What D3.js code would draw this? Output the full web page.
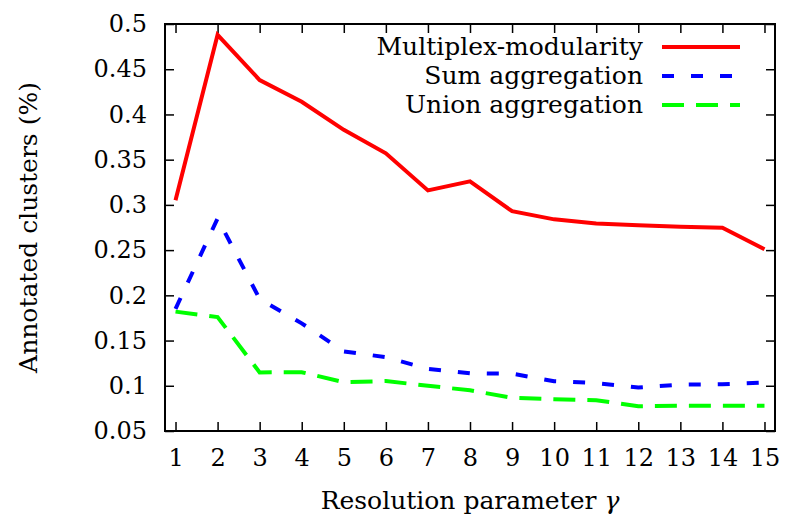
<!DOCTYPE html>
<html>
<head>
<meta charset="utf-8">
<script src="https://cdn.jsdelivr.net/npm/d3@7"></script>
<style>
  body { margin: 0; background: #fff; }
</style>
</head>
<body>
<div id="chart"></div>
<script>
// resolution parameter gamma
const gammas = [1, 2, 3, 4, 5, 6, 7, 8, 9, 10, 11, 12, 13, 14, 15];
const multiplex = [0.305, 0.488, 0.438, 0.414, 0.383, 0.357, 0.316, 0.326, 0.293, 0.284, 0.2795, 0.2775, 0.2758, 0.2747, 0.251];
const sumAgg = [0.185, 0.285, 0.196, 0.169, 0.138, 0.1316, 0.1187, 0.1139, 0.1134, 0.105, 0.103, 0.0981, 0.1013, 0.1017, 0.1035];
const unionAgg = [0.182, 0.176, 0.1148, 0.115, 0.104, 0.1052, 0.1, 0.095, 0.0866, 0.0852, 0.0841, 0.0774, 0.078, 0.078, 0.078];
const seriesNames = ['Multiplex-modularity', 'Sum aggregation', 'Union aggregation'];
const yTicks = [0.05, 0.1, 0.15, 0.2, 0.25, 0.3, 0.35, 0.4, 0.45, 0.5];

const W = 785, H = 518;
const M = { left: 165, right: 775, top: 24, bottom: 431 };
const FONT = 24;       // tick labels
const FONT_TXT = 25;   // legend and axis titles
const FAMILY = "'DejaVu Serif', serif";

const svg = d3.select('#chart').append('svg')
  .attr('width', W).attr('height', H)
  .style('font-family', FAMILY);

const x = d3.scaleLinear().domain([0.75, 15.25]).range([M.left, M.right]);
const y = d3.scaleLinear().domain([0.05, 0.5]).range([M.bottom, M.top]);

// axes, ticks drawn inward (gnuplot style), mirrored on top/right
function styleAxis(g) {
  g.attr('font-family', null).attr('font-size', null);
  g.selectAll('.domain').remove();
  g.selectAll('.tick line').attr('stroke', '#000').attr('stroke-width', 1.5);
  g.selectAll('text')
    .style('font-family', FAMILY)
    .style('font-size', FONT + 'px')
    .attr('fill', '#000');
}

svg.append('g')
  .attr('transform', 'translate(0,' + M.bottom + ')')
  .call(d3.axisBottom(x).tickValues(gammas).tickSizeInner(-9).tickSizeOuter(0).tickPadding(18))
  .call(styleAxis);

svg.append('g')
  .attr('transform', 'translate(0,' + M.top + ')')
  .call(d3.axisTop(x).tickValues(gammas).tickSizeInner(-9).tickSizeOuter(0).tickFormat(''))
  .call(styleAxis);

svg.append('g')
  .attr('transform', 'translate(' + M.left + ',0)')
  .call(d3.axisLeft(y).tickValues(yTicks).tickSizeInner(-9).tickSizeOuter(0).tickPadding(18).tickFormat(d => String(d)))
  .call(styleAxis);

svg.append('g')
  .attr('transform', 'translate(' + M.right + ',0)')
  .call(d3.axisRight(y).tickValues(yTicks).tickSizeInner(-9).tickSizeOuter(0).tickFormat(''))
  .call(styleAxis);

// frame
svg.append('rect')
  .attr('x', M.left).attr('y', M.top)
  .attr('width', M.right - M.left).attr('height', M.bottom - M.top)
  .attr('fill', 'none').attr('stroke', '#000').attr('stroke-width', 2);

// lines
const series = [
  { name: seriesNames[0], values: multiplex, color: '#ff0000', dash: null },
  { name: seriesNames[1], values: sumAgg, color: '#0000ff', dash: '12,17' },
  { name: seriesNames[2], values: unionAgg, color: '#00ff00', dash: '22,12' }
];

const line = d3.line()
  .x((d, i) => x(gammas[i]))
  .y(d => y(d));

const plot = svg.append('g');
plot.selectAll('path')
  .data(series)
  .enter()
  .append('path')
  .attr('d', d => line(d.values))
  .attr('fill', 'none')
  .attr('stroke', d => d.color)
  .attr('stroke-width', 4)
  .attr('stroke-dasharray', d => d.dash);

// legend (top right, text right-aligned)
const legend = svg.append('g').attr('transform', 'translate(643,47)');
const item = legend.selectAll('g')
  .data(series)
  .enter()
  .append('g')
  .attr('transform', (d, i) => 'translate(0,' + (i * 29) + ')');

item.append('text')
  .attr('text-anchor', 'end')
  .attr('dy', '0.33em')
  .style('font-family', FAMILY)
  .style('font-size', FONT_TXT + 'px')
  .text(d => d.name);

item.append('line')
  .attr('x1', 19).attr('x2', 97)
  .attr('stroke', d => d.color)
  .attr('stroke-width', 4)
  .attr('stroke-dasharray', d => d.dash);

// axis titles
svg.append('text')
  .attr('x', (M.left + M.right) / 2)
  .attr('y', 509)
  .attr('text-anchor', 'middle')
  .style('font-family', FAMILY)
  .style('font-size', FONT_TXT + 'px')
  .text('Resolution parameter ')
  .append('tspan')
  .style('font-style', 'italic')
  .text('γ');

svg.append('text')
  .attr('transform', 'translate(37,' + ((M.top + M.bottom) / 2) + ') rotate(-90)')
  .attr('text-anchor', 'middle')
  .style('font-family', FAMILY)
  .style('font-size', FONT_TXT + 'px')
  .text('Annotated clusters (%)');
</script>
</body>
</html>
